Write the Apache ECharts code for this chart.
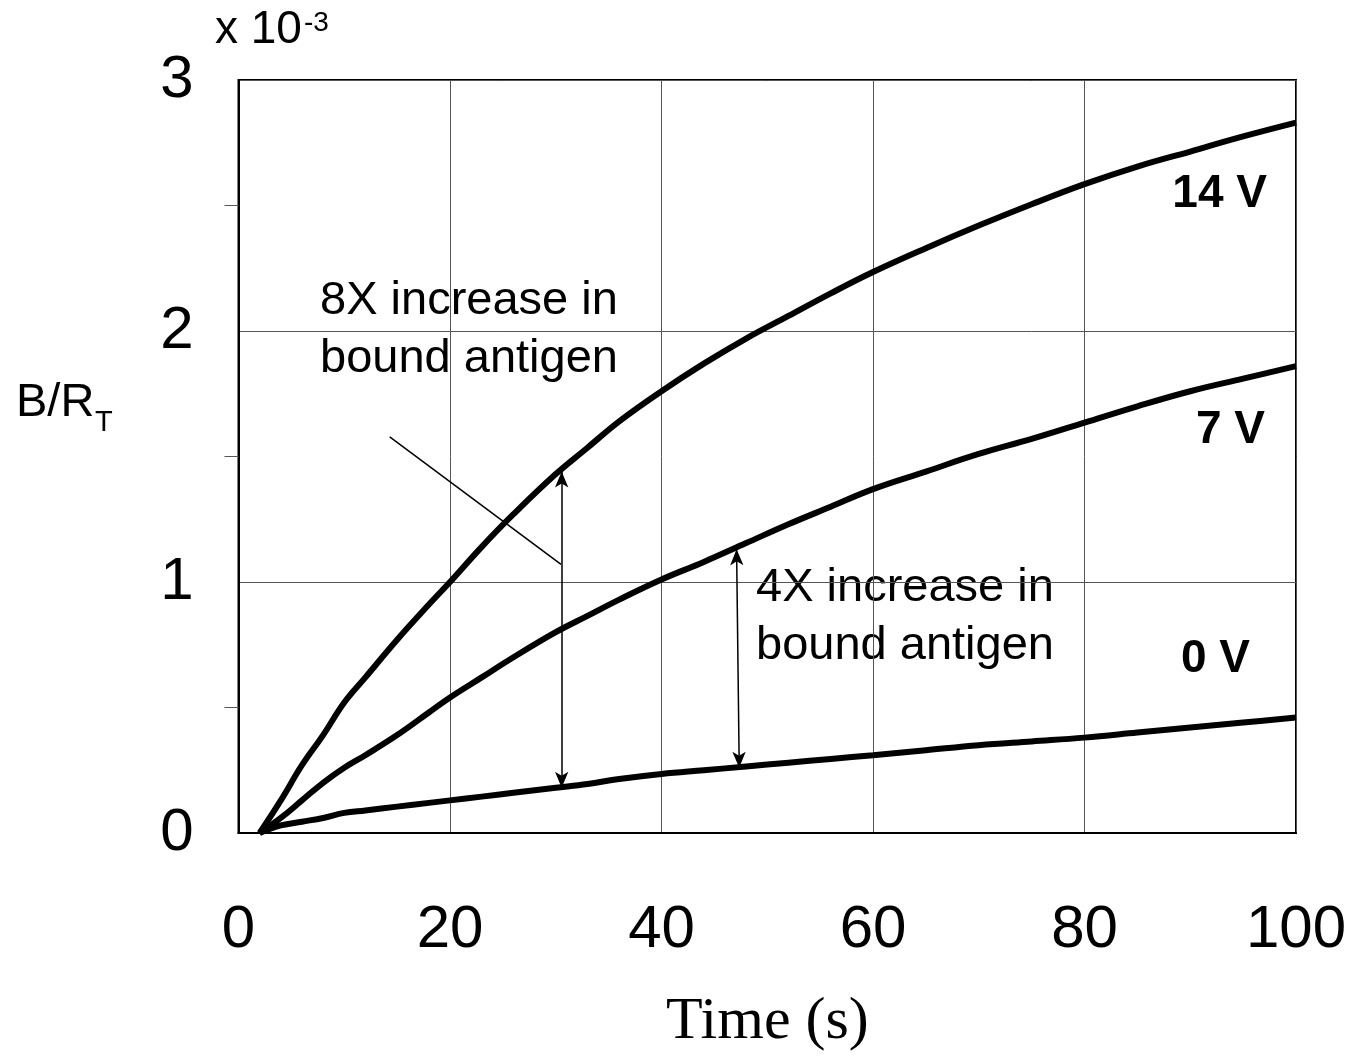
<!DOCTYPE html>
<html>
<head>
<meta charset="utf-8">
<script src="https://cdn.jsdelivr.net/npm/echarts@6/dist/echarts.min.js"></script>
<style>
html,body{margin:0;padding:0;background:#fff;}
#chart{width:1350px;height:1059px;}
</style>
</head>
<body>
<div id="chart"></div>
<script>
// Data (B/RT values in units of 1e-3)
var times = [2, 4, 6, 8, 10, 12, 15, 18, 20, 23, 26, 30, 33, 36, 40, 44, 48, 52, 56, 60, 65, 70, 75, 80, 85, 90, 95, 100];
var v14 = [0, 0.13, 0.27, 0.39, 0.52, 0.62, 0.77, 0.91, 1.00, 1.14, 1.27, 1.43, 1.535, 1.64, 1.76, 1.87, 1.97, 2.06, 2.15, 2.235, 2.33, 2.42, 2.505, 2.585, 2.655, 2.715, 2.775, 2.83];
var v7 = [0, 0.06, 0.13, 0.20, 0.26, 0.31, 0.39, 0.48, 0.54, 0.62, 0.70, 0.80, 0.865, 0.93, 1.01, 1.08, 1.155, 1.23, 1.30, 1.37, 1.44, 1.51, 1.57, 1.635, 1.70, 1.76, 1.81, 1.86];
var v0 = [0, 0.03, 0.045, 0.06, 0.08, 0.09, 0.105, 0.12, 0.13, 0.145, 0.16, 0.18, 0.195, 0.215, 0.235, 0.25, 0.265, 0.28, 0.295, 0.31, 0.33, 0.35, 0.365, 0.38, 0.40, 0.42, 0.44, 0.46];
var seriesNames = ['14 V', '7 V', '0 V'];
var xTicks = [0, 20, 40, 60, 80, 100];
var yTicks = [0, 1, 2, 3];
// annotation arrows (data coords)
var arrow8x = [[30.56, 1.44], [30.56, 0.18]];
var arrow4x = [[47.1, 1.13], [47.35, 0.26]];
var pointer8x = [[14.3, 1.578], [30.5, 1.07]];

function pairs(xs, ys) { return xs.map(function (x, i) { return [x, ys[i]]; }); }

var chart = echarts.init(document.getElementById('chart'));
var lineStyle = { color: '#000', width: 6 };
var font = 'Arial, "Liberation Sans", sans-serif';

var option = {
  animation: false,
  backgroundColor: '#fff',
  grid: { left: 238.5, right: 54, top: 80, bottom: 226, show: true, borderColor: '#000', borderWidth: 2, backgroundColor: 'transparent' },
  xAxis: {
    type: 'value', min: 0, max: 100, interval: 20,
    axisLine: { show: true, lineStyle: { color: '#000', width: 2 } },
    axisTick: { show: false },
    splitLine: { show: true, lineStyle: { color: '#555', width: 1 } },
    axisLabel: { fontSize: 60, fontFamily: font, color: '#000', margin: 67,
      formatter: function (v) { return xTicks.indexOf(v) >= 0 ? String(v) : ''; } }
  },
  yAxis: {
    type: 'value', min: 0, max: 3, interval: 1,
    axisLine: { show: true, lineStyle: { color: '#000', width: 2 } },
    axisTick: { show: false },
    minorTick: { show: true, splitNumber: 2, length: 14, lineStyle: { color: '#555', width: 1 } },
    splitLine: { show: true, lineStyle: { color: '#555', width: 1 } },
    axisLabel: { fontSize: 60, fontFamily: font, color: '#000', margin: 45,
      formatter: function (v) { return yTicks.indexOf(v) >= 0 ? String(v) : ''; } }
  },
  series: [
    { name: seriesNames[0], type: 'line', data: pairs(times, v14), showSymbol: false, smooth: 0.4, lineStyle: lineStyle, z: 3 },
    { name: seriesNames[1], type: 'line', data: pairs(times, v7), showSymbol: false, smooth: 0.4, lineStyle: lineStyle, z: 3 },
    { name: seriesNames[2], type: 'line', data: pairs(times, v0), showSymbol: false, smooth: 0.4, lineStyle: lineStyle, z: 3,
      markLine: {
        silent: true,
        symbol: ['arrow', 'arrow'],
        symbolSize: [10, 16],
        label: { show: false },
        lineStyle: { color: '#000', width: 1.5, type: 'solid' },
        data: [
          [{ coord: arrow8x[0] }, { coord: arrow8x[1] }],
          [{ coord: arrow4x[0] }, { coord: arrow4x[1] }],
          [{ coord: pointer8x[0], symbol: 'none' }, { coord: pointer8x[1], symbol: 'none' }]
        ]
      }
    }
  ],
  graphic: [
    { type: 'text', left: 320, top: 272, style: { text: '8X increase in\nbound antigen', font: '47px ' + font, fill: '#000', lineHeight: 58 } },
    { type: 'text', left: 756, top: 559, style: { text: '4X increase in\nbound antigen', font: '47px ' + font, fill: '#000', lineHeight: 58 } },
    { type: 'text', right: 83, top: 171, style: { text: seriesNames[0], font: 'bold 46px ' + font, fill: '#000', align: 'right' } },
    { type: 'text', right: 85, top: 407, style: { text: seriesNames[1], font: 'bold 46px ' + font, fill: '#000', align: 'right' } },
    { type: 'text', right: 100, top: 636, style: { text: seriesNames[2], font: 'bold 46px ' + font, fill: '#000', align: 'right' } },
    { type: 'text', left: 666, top: 992, style: { text: 'Time (s)', font: '60px "Liberation Serif", "Times New Roman", serif', fill: '#000' } },
    { type: 'text', left: 16, top: 380, style: { text: 'B/R', font: '47px ' + font, fill: '#000' } },
    { type: 'text', left: 95, top: 408, style: { text: 'T', font: '29px ' + font, fill: '#000' } },
    { type: 'text', left: 215, top: 7, style: { text: 'x 10', font: '46px ' + font, fill: '#000' } },
    { type: 'text', left: 304, top: 9, style: { text: '-3', font: '28px ' + font, fill: '#000' } }
  ]
};
chart.setOption(option);
</script>
</body>
</html>
